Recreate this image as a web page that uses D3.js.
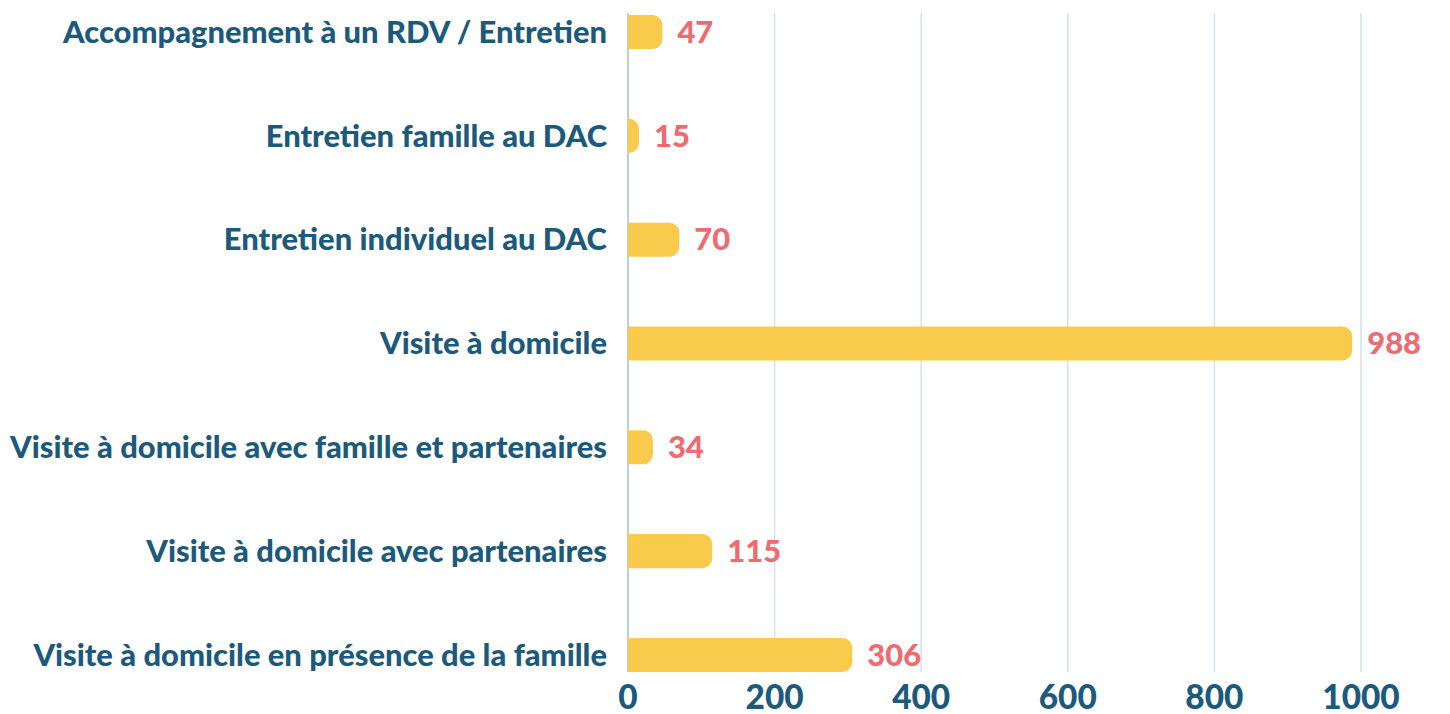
<!DOCTYPE html>
<html lang="fr">
  <head>
    <meta charset="utf-8">
    <title>Interventions</title>
    <script src="https://cdn.jsdelivr.net/npm/d3@7"></script>
    <style>
      body { margin: 0; background: #fff; }
      text { font-family: "Lato", sans-serif; font-weight: 900; }
    </style>
  </head>
  <body>
    <script>
      // Data
      var categories = [
        "Accompagnement à un RDV / Entretien",
        "Entretien famille au DAC",
        "Entretien individuel au DAC",
        "Visite à domicile",
        "Visite à domicile avec famille et partenaires",
        "Visite à domicile avec partenaires",
        "Visite à domicile en présence de la famille"
      ];
      var values = [47, 15, 70, 988, 34, 115, 306];
      var ticks = [0, 200, 400, 600, 800, 1000];

      var width = 1450, height = 714;
      var plotLeft = 628, plotTop = 15, plotBottom = 672;

      var svg = d3.select("body").append("svg")
                  .attr("width", width)
                  .attr("height", height);

      var x = d3.scaleLinear()
                .domain([0, 1000])
                .range([plotLeft, 1361]);
      var y = d3.scaleBand()
                .domain(categories)
                .range([plotTop, plotBottom])
                .paddingInner(0.672)
                .paddingOuter(0);

      // gridlines
      svg.append("g").selectAll("line")
        .data(ticks.slice(1))
        .enter().append("line")
        .attr("x1", d => x(d)).attr("x2", d => x(d))
        .attr("y1", 13).attr("y2", plotBottom)
        .attr("stroke", "#d6e1ea")
        .attr("stroke-width", 1.5);

      // axis line
      svg.append("line")
        .attr("x1", x(0)).attr("x2", x(0))
        .attr("y1", 13).attr("y2", plotBottom)
        .attr("stroke", "#6f9fbd")
        .attr("stroke-width", 1);

      // bars, rounded on the right only
      var r = 10;
      var bh = y.bandwidth();
      svg.append("g").selectAll("path")
        .data(values)
        .enter().append("path")
        .attr("fill", "#f9ca4b")
        .attr("d", function(d, i) {
          var x0 = x(0), x1 = x(d), y0 = y(categories[i]);
          var rr = Math.min(r, (x1 - x0));
          return "M" + x0 + "," + y0 +
                 "H" + (x1 - rr) +
                 "A" + rr + "," + rr + " 0 0 1 " + x1 + "," + (y0 + rr) +
                 "V" + (y0 + bh - rr) +
                 "A" + rr + "," + rr + " 0 0 1 " + (x1 - rr) + "," + (y0 + bh) +
                 "H" + x0 + "Z";
        });

      // category labels
      var labels = svg.append("g").selectAll("text")
        .data(categories)
        .enter().append("text")
        .attr("x", 607)
        .attr("y", d => y(d) + bh / 2)
        .attr("dy", "0.35em")
        .attr("text-anchor", "end")
        .attr("fill", "#1b5a7d")
        .attr("font-size", 26)
        .text(d => d);

      // fit the longest label to the reference width
      var maxW = d3.max(labels.nodes(), n => n.getComputedTextLength());
      var fs = 26 * 597 / maxW;
      labels.attr("font-size", fs);

      // value labels
      svg.append("g").selectAll("text")
        .data(values)
        .enter().append("text")
        .attr("x", d => x(d) + 15)
        .attr("y", (d, i) => y(categories[i]) + bh / 2)
        .attr("dy", "0.35em")
        .attr("fill", "#ee6b71")
        .attr("font-size", fs)
        .text(d => d);

      // tick labels
      svg.append("g").selectAll("text")
        .data(ticks)
        .enter().append("text")
        .attr("x", d => x(d))
        .attr("y", 697)
        .attr("dy", "0.35em")
        .attr("text-anchor", "middle")
        .attr("fill", "#1b5a7d")
        .attr("font-size", fs * 1.08)
        .text(d => d);
    </script>
  </body>
</html>
